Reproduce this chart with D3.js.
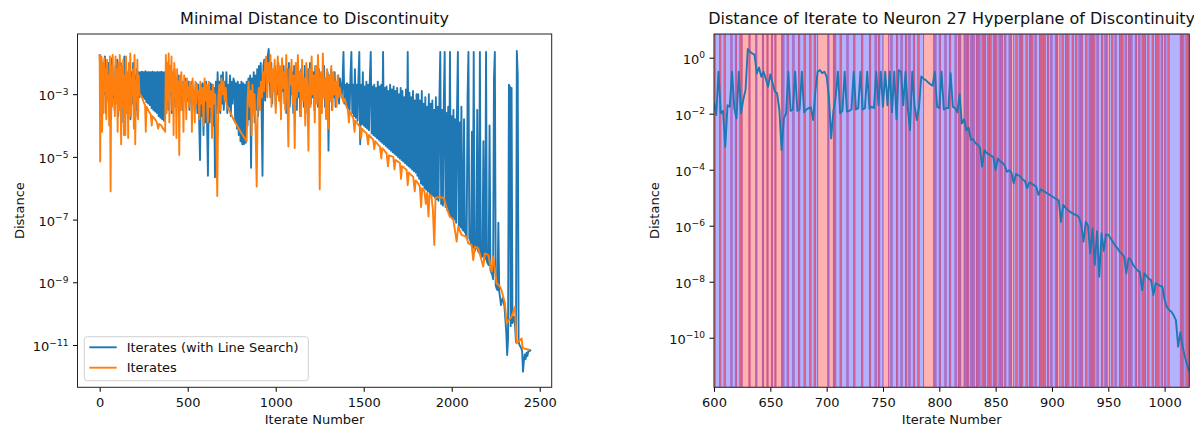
<!DOCTYPE html>
<html>
<head>
<meta charset="utf-8">
<script src="https://cdn.jsdelivr.net/npm/d3@7"></script>
<style>
  html, body { margin: 0; padding: 0; background: #fff; }
  svg { display: block; font-family: "DejaVu Sans", sans-serif; }
</style>
</head>
<body>
<svg id="fig" width="1194" height="427"></svg>
<script>
// ---------------- data ----------------
// Minimal distance to a discontinuity, stored as log10(distance).
// Line-search iterates are sampled every lsStep iterations starting at 0.
const lsStep = 5;
const lsLog10 = [
  -1.72,-2.6,-1.9,-3.3,-2.1,-3.0,-1.8,-3.6,-2.4,-2.9,-2.0,-3.4,-2.2,-3.8,-1.85,-3.1,-2.5,-3.5,-2.1,-2.8,
  -1.9,-3.7,-2.3,-3.2,-2.0,-3.9,-2.4,-3.0,-1.8,-3.4,-2.2,-3.6,-2.5,-3.1,-2.1,-3.8,-2.3,-3.3,-2.0,-2.9,
  -2.4,-3.5,-2.2,-3.7,-2.3,-3.1,
  -2.3,-3.05,-2.28,-3.1,-2.3,-3.15,-2.27,-3.25,-2.3,-3.3,-2.29,-3.35,-2.3,-3.45,-2.28,-3.5,-2.3,-3.55,-2.3,-3.6,
  -2.29,-3.7,-2.3,-3.75,-2.28,-3.8,-2.3,-3.85,-2.3,
  -2.4,-3.2,-2.6,-3.5,-2.3,-3.0,-2.7,-3.6,-2.5,-3.3,-2.2,-3.4,-2.6,-3.1,-2.4,-3.7,-2.5,-3.2,-2.8,-3.5,
  -2.6,-3.0,-2.5,-3.4,-2.7,-3.2,-2.6,-3.5,-2.8,-3.1,-2.6,-3.3,-2.9,-3.5,-2.7,
  -2.65,-3.6,-2.7,-3.8,-5.1,-2.7,-3.7,-2.65,-4.3,-2.7,-3.9,-2.6,-3.8,-5.6,-2.7,-3.9,-2.65,-3.7,-2.7,-4.0,
  -2.8,-5.65,-2.6,-3.6,
  -2.3,-3.4,-2.6,-3.6,-2.4,-3.3,-2.3,-3.5,-2.6,-3.2,-2.3,-3.6,-2.7,-3.4,-2.4,-3.7,-2.6,-3.3,-2.5,
  -2.6,-3.9,-2.65,-4.1,-2.6,-4.3,-2.7,-4.5,-2.6,-4.6,-2.65,-4.6,-2.7,-4.55,-2.6,-4.0,-2.5,-3.8,-2.4,-5.35,
  -2.5,-3.6,-2.3,-3.9,-2.4,-3.5,-2.2,-3.7,-2.1,-3.4,-2.0,-3.6,-5.6,-2.1,-1.9,-3.2,-2.0,-2.8,-1.8,
  -1.56,
  -2.2,-3.1,-2.0,-3.3,-2.4,-2.9,-2.1,-3.4,-2.3,-3.0,-2.0,-3.2,-2.5,-3.5,-2.2,-2.9,-2.1,-3.3,-2.4,-3.6,
  -2.2,-3.1,-2.0,-3.4,-2.6,-3.0,-2.3,-3.6,-2.1,-3.2,-2.4,-3.5,-2.0,-3.1,-2.3,-3.7,-2.2,-3.0,-2.5,-3.4,
  -2.1,-3.2,-2.4,-3.6,-2.2,-2.9,-2.0,-3.3,-2.5,-3.1,-2.3,-3.5,-2.1,-3.0,-2.4,-3.4,-2.2,-3.2,-2.6,-3.6,
  -2.3,-3.1,-2.1,-3.4,-2.5,-3.0,-2.3,-4.8,-2.4,-3.2,-2.2,-3.5,-2.5,-3.1,-2.3,-3.4,-2.6,-3.0,-2.4,-3.3,
  -2.5,
  -2.7,-3.1,-2.6,-1.65,-3.3,-2.7,-3.35,-2.65,-3.45,-2.7,-3.5,-2.4,-1.65,-3.6,-2.7,-3.7,-2.2,-3.75,-2.7,-3.85,
  -2.5,-1.65,-4.6,-2.7,-3.95,-2.3,-4.0,-2.75,-4.05,-2.6,-4.1,-2.7,-4.15,-2.5,-1.65,-4.25,-2.75,-4.3,-2.7,-4.35,
  -2.8,-4.4,-2.6,-4.45,-2.75,-4.5,-2.7,-4.55,-1.65,-4.6,-2.8,-4.65,-2.75,-4.7,-2.9,-4.75,-2.7,-4.8,-2.85,-4.85,
  -2.75,-4.9,-2.9,-4.95,-2.8,-5.0,-3.0,-5.05,-2.8,-5.1,-2.9,-5.15,-3.1,-5.2,-2.85,-5.25,-1.65,-5.3,-2.95,-5.35,
  -3.1,-5.4,-2.9,-5.45,-3.2,-5.5,-3.0,
  -5.6,-3.0,-5.7,-3.2,-5.85,-2.9,-5.9,-3.3,-6.0,-3.1,-6.05,-3.4,-6.1,-3.0,-6.15,-3.3,-6.2,-3.2,-6.25,-3.5,
  -6.3,-3.1,-6.35,-3.4,-6.4,-3.2,-1.65,-6.5,-3.5,-6.55,-3.3,-1.65,-6.6,-3.6,-6.7,-3.4,-6.8,-1.65,-6.9,-3.7,
  -6.95,-3.5,-7.0,-3.8,-7.1,-3.6,-1.65,-7.2,-3.9,-7.25,
  -3.4,-7.3,-7.35,-3.8,-7.4,-7.45,-7.6,-3.1,-1.65,-7.6,-7.65,-7.8,-4.2,-7.9,-1.65,-8.0,-7.95,-7.9,-3.5,-8.0,
  -8.05,-1.65,-8.1,-8.2,-8.15,-4.5,-8.3,-8.25,-1.65,-8.35,-8.4,-8.45,-4.0,-8.6,-8.7,-8.75,-8.9,-2.5,-1.65,-9.1,
  -9.2,-9.25,-7.1,-9.3,-9.5,-9.73,-9.6,-9.5,-9.6,-9.8,-10.2,-10.6,-11.32,-10.8,-2.7,-2.75,-10.4,-2.8,-10.3,-10.2,
  -10.1,-10.4,-10.9,-1.62,-2.4,-10.9,-11.0,-11.05,-11.1,-11.2,-11.85,-11.5,-11.3,-11.45,-11.25,-11.35,-11.2,-11.2,-11.18,-11.15
];

// Plain iterates: [iterate number, log10(distance)]
const itPts = [
  [0,-1.72],[3,-5.15],[6,-2.3],[10,-1.8],[14,-4.2],[18,-2.0],[22,-3.6],[26,-1.85],[30,-2.9],[34,-2.2],
  [38,-3.8],[42,-1.9],[46,-3.2],[50,-2.4],[54,-4.0],[58,-1.8],[62,-6.1],[66,-2.1],[70,-3.4],[74,-1.75],
  [78,-3.0],[82,-2.5],[86,-3.7],[90,-1.8],[94,-3.3],[98,-2.2],[102,-4.2],[106,-2.0],[110,-3.5],[114,-1.75],
  [118,-2.8],[122,-4.6],[126,-2.1],[130,-3.4],[134,-1.9],[138,-4.3],[142,-2.4],[146,-4.3],[150,-1.8],[154,-3.6],
  [158,-2.3],[162,-4.4],[166,-2.0],[170,-3.2],[174,-1.7],[178,-3.7],[182,-2.5],[186,-3.0],[190,-2.2],[194,-4.1],
  [198,-1.75],[202,-4.6],[206,-2.6],[210,-3.2],[214,-1.9],[218,-3.8],[222,-2.4],[226,-3.0],
  [230,-3.0],[240,-3.1],[250,-3.25],[258,-3.35],[262,-4.2],[266,-3.4],[280,-3.55],[290,-3.65],[296,-4.0],[300,-3.7],
  [315,-3.8],[325,-3.9],[332,-4.1],[338,-3.95],[350,-4.0],[360,-4.1],[368,-4.15],[372,-4.2],
  [376,-1.75],[380,-3.6],[384,-2.0],[388,-3.2],[392,-1.7],[396,-3.9],[400,-2.1],[404,-2.9],[408,-1.8],[412,-3.5],
  [416,-2.3],[420,-4.3],[424,-2.0],[428,-3.1],[432,-2.5],[436,-4.4],[440,-2.2],[444,-3.3],[448,-2.6],[452,-4.94],
  [456,-2.4],[460,-3.5],[464,-2.3],[468,-3.0],[472,-2.7],[476,-4.2],[480,-2.4],[484,-3.2],[488,-2.6],[492,-3.8],
  [496,-2.5],[500,-3.1],[504,-2.8],[508,-3.4],[512,-2.6],[516,-3.0],[520,-2.7],[524,-4.2],[528,-2.5],[532,-3.2],
  [536,-2.9],[540,-3.9],[544,-2.6],[548,-3.3],[552,-2.7],[556,-3.0],
  [560,-2.9],[566,-3.8],[572,-2.6],[578,-3.3],[584,-2.8],[590,-4.0],[596,-2.5],[602,-3.2],[608,-2.7],[614,-3.9],
  [620,-2.6],[626,-3.4],[632,-2.9],[638,-4.4],[644,-2.7],[650,-3.3],[656,-3.0],[662,-4.0],[668,-6.25],[674,-3.1],
  [680,-2.7],[686,-3.5],[692,-2.5],[698,-3.0],[704,-2.6],[710,-3.2],[716,-2.8],[721,-3.34],[760,-3.8],[800,-4.2],
  [835,-4.5],[840,-3.2],[846,-2.6],[852,-3.4],[858,-2.9],[863,-4.3],[868,-2.7],[874,-3.6],[880,-3.0],[886,-4.2],
  [892,-5.95],[898,-3.2],[904,-2.8],[910,-3.5],[916,-2.6],[922,-3.1],[928,-2.3],[934,-2.9],[940,-2.0],
  [946,-1.8],[952,-3.1],[958,-2.0],[964,-2.6],[970,-1.75],[976,-3.4],[982,-2.2],[988,-2.9],[994,-1.9],[1000,-3.6],
  [1006,-2.4],[1012,-1.8],[1018,-3.2],[1024,-2.1],[1030,-3.8],[1036,-1.85],[1042,-2.8],[1048,-2.3],[1054,-3.5],[1060,-1.75],
  [1066,-3.0],[1072,-4.67],[1078,-2.2],[1084,-2.7],[1090,-1.9],[1096,-3.3],[1102,-2.4],[1108,-4.72],[1114,-2.0],[1120,-3.1],
  [1126,-1.75],[1132,-2.9],[1138,-2.3],[1144,-3.7],[1150,-1.9],[1156,-3.2],[1162,-2.5],[1168,-4.0],[1174,-2.0],[1180,-2.8],
  [1186,-4.8],[1192,-2.2],[1198,-3.4],[1204,-1.8],[1210,-3.0],[1216,-2.4],[1222,-3.9],[1228,-2.1],[1234,-3.3],[1240,-1.75],
  [1246,-2.7],[1250,-6.03],[1256,-2.3],[1262,-3.6],[1268,-1.7],[1274,-3.1],[1280,-2.5],[1286,-3.8],[1292,-2.2],[1298,-4.1],
  [1304,-2.4],[1310,-3.2],[1316,-2.1],[1322,-3.5],[1328,-2.3],[1334,-3.0],[1340,-2.6],[1346,-3.4],[1352,-2.4],[1358,-3.1],
  [1364,-2.8],[1370,-3.0],
  [1375,-3.05],[1385,-3.25],[1392,-3.15],[1403,-3.4],[1410,-3.5],[1416,-3.9],[1420,-3.55],[1430,-3.65],[1441,-3.77],[1448,-4.2],
  [1452,-3.85],[1465,-3.95],[1479,-4.04],[1485,-4.4],[1490,-4.1],[1505,-4.2],[1517,-4.25],[1525,-4.6],[1530,-4.3],[1554,-4.46],
  [1560,-4.75],[1566,-4.5],[1580,-4.6],[1592,-4.67],[1600,-5.05],[1605,-4.72],[1618,-4.8],[1630,-4.89],[1638,-5.3],[1644,-4.95],
  [1668,-5.0],[1675,-5.4],[1680,-5.1],[1695,-5.15],[1706,-5.2],[1712,-5.7],[1718,-5.3],[1730,-5.35],[1744,-5.42],[1750,-5.9],
  [1756,-5.5],[1770,-5.58],[1781,-5.63],[1790,-6.1],[1795,-5.75],[1810,-5.85],[1819,-5.95],[1826,-6.6],[1832,-6.0],[1845,-6.1],
  [1853,-6.5],[1860,-6.15],[1868,-6.9],[1874,-6.2],[1885,-6.25],[1893,-6.7],[1901,-7.81],[1908,-6.3],[1930,-6.28],[1956,-6.32],
  [1970,-6.6],[1988,-6.9],[2000,-6.95],[2009,-7.01],[2018,-7.33],[2028,-7.7],[2037,-7.23],[2056,-7.49],[2085,-7.55],[2094,-7.76],
  [2113,-7.81],[2122,-8.29],[2132,-7.86],[2151,-7.92],[2179,-8.5],[2189,-8.08],[2208,-8.13],[2227,-8.66],[2236,-8.18],[2255,-9.03],
  [2274,-9.14],[2283,-9.25],[2302,-9.67],[2312,-10.31],[2340,-10.1],[2359,-9.78],[2368,-10.95],[2397,-10.79],[2403,-11.1],[2444,-11.16]
];

// Distance of iterate to the neuron-27 hyperplane, log10, every neuronStep iterates from neuronStart.
const neuronStart = 600;
const neuronStep = 2;
const neuronLog10 = [
  -1.6,-2.05,-0.5,-1.99,-1.9,-3.18,-1.7,-1.75,-0.5,-1.8,
  -2.17,-0.5,-1.99,-1.5,-1.15,0.31,0.21,0.15,0.1,-0.56,
  -0.35,-0.68,-0.5,-0.75,-1.04,-0.6,-0.9,-1.21,-1.27,-1.87,
  -3.3,-2.17,-1.99,-0.5,-1.9,-1.85,-0.5,-1.9,-1.85,-0.5,
  -1.95,-1.85,-1.8,-1.78,-2.23,-1.2,-0.5,-0.44,-0.55,-0.5,
  -0.68,-1.4,-2.88,-1.9,-1.4,-0.5,-1.99,-1.9,-0.5,-1.92,
  -1.9,-1.85,-0.5,-1.85,-1.8,-0.5,-1.85,-1.8,-0.5,-1.82,
  -1.75,-1.8,-0.5,-1.7,-0.5,-1.75,-0.5,-1.7,-0.5,-1.95,
  -0.5,-2.2,-0.45,-0.5,-1.7,-0.5,-1.8,-2.58,-0.5,-1.7,
  -2.23,-1.75,-0.67,-0.75,-0.8,-0.88,-0.95,-1.0,-0.5,-1.75,
  -1.8,-0.5,-1.85,-1.8,-1.8,-0.55,-1.75,-1.8,-1.95,-1.3,
  -2.35,-2.2,-2.6,-2.5,-2.94,-2.9,-3.05,-3.1,-3.2,-3.89,
  -3.3,-3.4,-3.45,-3.5,-3.55,-4.0,-3.6,-3.7,-3.75,-3.85,
  -4.07,-4.02,-4.1,-4.49,-4.15,-4.2,-4.25,-4.35,-4.4,-4.66,
  -4.45,-4.5,-4.55,-4.6,-4.9,-4.7,-4.75,-4.8,-4.85,-4.9,
  -4.95,-5.0,-5.05,-5.1,-5.86,-5.26,-5.35,-5.44,-5.5,-5.55,
  -5.6,-5.62,-5.7,-5.97,-6.57,-5.86,-6.0,-6.99,-6.1,-7.4,
  -6.2,-7.82,-6.27,-6.9,-6.3,-6.33,-6.45,-6.57,-6.7,-6.8,
  -6.93,-7.0,-7.1,-7.7,-7.15,-7.22,-7.4,-7.5,-7.6,-7.65,
  -8.3,-7.7,-7.8,-7.9,-7.94,-8.48,-8.05,-8.1,-8.15,-8.18,
  -8.65,-8.9,-9.01,-9.07,-9.2,-9.37,-10.32,-9.8,-10.32,-10.68,
  -10.98,-11.21
];

// Side of the hyperplane for each iterate from neuronStart: r = one side, b = the other.
const sideSeq = (
  "rbbbbrbbbrbbbbbrbbbrbbbrbrrrrrrbrrrrrbrrrrrbrrrbrr" +
  "rbrrbrrrrrbrbbbrbbbbrbbbbrbbbbrbbbbrbbbrbbrrrrrrrr" +
  "rbrrrrbrbbbbrbbbbbrbbbbbrbbbbbbrbbbbbbrbbbbrbbrbbb" +
  "rrrrrbbrbbbbrbbbrbbbrbbrbbbrbbbrbbbbrrrrrrrrrbrbbb" +
  "rbbbbrbbbrbbbbrbbrbrrrbrbrbbrbrbbrbrbbrbrbbrbrbbrb" +
  "rbbrbrbbrbbbrbrrbbrbbrbrbbbrbbrbrbbrbbbrbrbrbbrbbr" +
  "bbbrbrrbbrbbrbrbbbrbbrbbrbrbbbrbbrbrbrbbrbbbrbbrbr" +
  "rbbrbbrbbbrbrbbrbbrbrbbbrbbrbbrbrbbrbbbrbbrbrbbrbb" +
  "rbbr" + "bbbbbbbbbb" + "rbrbbrbr"
).split("");

const xTicksL = [0, 500, 1000, 1500, 2000, 2500];
const yExpTicksL = [-3, -5, -7, -9, -11];
const xTicksR = [600, 650, 700, 750, 800, 850, 900, 950, 1000];
const yExpTicksR = [0, -2, -4, -6, -8, -10];

const seriesNames = ["Iterates (with Line Search)", "Iterates"];
const seriesColors = ["#1f77b4", "#ff7f0e"];

// ---------------- layout ----------------
const FONT = 13;
const TITLE_FONT = 16;
const boxL = { x0: 77.5, x1: 551.7, y0: 34, y1: 387.3 };
const boxR = { x0: 714, x1: 1189.3, y0: 34, y1: 387.3 };

const svg = d3.select("#fig");
const defs = svg.append("defs");

const xL = d3.scaleLinear().domain([-126, 2568]).range([boxL.x0, boxL.x1]);
const yL = d3.scaleLog().domain([10 ** -12.35, 10 ** -1.08]).range([boxL.y1, boxL.y0]);
const xR = d3.scaleLinear().domain([600, 1021.9]).range([boxR.x0, boxR.x1]);
const yR = d3.scaleLog().domain([10 ** -11.77, 10 ** 0.846]).range([boxR.y1, boxR.y0]);

function clipFor(id, b) {
  defs.append("clipPath").attr("id", id).append("rect")
    .attr("x", b.x0).attr("y", b.y0).attr("width", b.x1 - b.x0).attr("height", b.y1 - b.y0);
  return `url(#${id})`;
}
const clipL = clipFor("clipL", boxL);
const clipR = clipFor("clipR", boxR);

function expLabel(textSel, e) {
  textSel.text(null);
  textSel.append("tspan").text("10");
  textSel.append("tspan").attr("dy", -5.4).attr("font-size", 9.1)
    .text(e < 0 ? "\u2212" + (-e) : String(e));
}

function drawAxes(box, x, y, xTicks, yExps, title, yLabelX) {
  const gx = svg.append("g").attr("transform", `translate(0,${box.y1})`)
    .call(d3.axisBottom(x).tickValues(xTicks).tickSize(4.5).tickSizeOuter(0).tickFormat(d3.format("d")));
  gx.select(".domain").remove();
  gx.selectAll(".tick line").attr("stroke", "#000").attr("stroke-width", 1);
  gx.selectAll(".tick text").attr("y", 20).attr("dy", 0)
    .attr("font-size", FONT).attr("font-family", "DejaVu Sans").attr("fill", "#111");

  const gy = svg.append("g").attr("transform", `translate(${box.x0},0)`)
    .call(d3.axisLeft(y).tickValues(yExps.map(e => 10 ** e)).tickSize(4.5).tickPadding(4.5).tickSizeOuter(0));
  gy.select(".domain").remove();
  gy.selectAll(".tick line").attr("stroke", "#000").attr("stroke-width", 1);
  gy.selectAll(".tick text").attr("dy", null).attr("y", 5.6)
    .attr("font-size", FONT).attr("font-family", "DejaVu Sans").attr("fill", "#111")
    .each(function (d, i) { expLabel(d3.select(this), yExps[i]); });

  svg.append("rect").attr("x", box.x0).attr("y", box.y0)
    .attr("width", box.x1 - box.x0).attr("height", box.y1 - box.y0)
    .attr("fill", "none").attr("stroke", "#222").attr("stroke-width", 1);

  const cx = (box.x0 + box.x1) / 2;
  svg.append("text").attr("x", cx).attr("y", 23.5).attr("text-anchor", "middle")
    .attr("font-size", TITLE_FONT).attr("fill", "#111").text(title);
  svg.append("text").attr("x", cx).attr("y", 424).attr("text-anchor", "middle")
    .attr("font-size", FONT).attr("fill", "#111").text("Iterate Number");
  svg.append("text").attr("transform", `translate(${yLabelX},${(box.y0 + box.y1) / 2}) rotate(-90)`)
    .attr("text-anchor", "middle").attr("font-size", FONT).attr("fill", "#111").text("Distance");
}

// ---------------- left panel ----------------
const lsPts = lsLog10.map((v, i) => [i * lsStep, v]);
const lineL = d3.line().x(d => xL(d[0])).y(d => yL(10 ** d[1]));

const plotL = svg.append("g").attr("clip-path", clipL);
plotL.append("path").datum(lsPts).attr("d", lineL)
  .attr("fill", "none").attr("stroke", seriesColors[0]).attr("stroke-width", 1.9).attr("stroke-linejoin", "round");
plotL.append("path").datum(itPts).attr("d", lineL)
  .attr("fill", "none").attr("stroke", seriesColors[1]).attr("stroke-width", 1.9).attr("stroke-linejoin", "round");

drawAxes(boxL, xL, yL, xTicksL, yExpTicksL, "Minimal Distance to Discontinuity", 23.7);

// legend
const lg = svg.append("g");
lg.append("rect").attr("x", 84.3).attr("y", 336.7).attr("width", 224).attr("height", 44)
  .attr("rx", 3).attr("fill", "#fff").attr("fill-opacity", 0.8).attr("stroke", "#d0d0d0").attr("stroke-width", 1);
seriesNames.forEach((name, i) => {
  const yy = 347.3 + i * 20.4;
  lg.append("line").attr("x1", 89.3).attr("x2", 116.7).attr("y1", yy).attr("y2", yy)
    .attr("stroke", seriesColors[i]).attr("stroke-width", 1.9);
  lg.append("text").attr("x", 126.7).attr("y", yy + 4.6).attr("font-size", FONT).attr("fill", "#111").text(name);
});

// ---------------- right panel ----------------
// group consecutive iterates on the same side into spans
const runs = [];
sideSeq.forEach((s, i) => {
  const it = neuronStart + i;
  const last = runs[runs.length - 1];
  if (last && last.side === s) last.end = it + 1;
  else runs.push({ start: it, end: it + 1, side: s });
});
// blue spans first, red spans on top
const orderedRuns = runs.filter(d => d.side === "b").concat(runs.filter(d => d.side === "r"));

const plotR = svg.append("g").attr("clip-path", clipR);
plotR.selectAll("rect.span").data(orderedRuns).join("rect").attr("class", "span")
  .attr("x", d => xR(d.start)).attr("width", d => xR(d.end) - xR(d.start))
  .attr("y", boxR.y0).attr("height", boxR.y1 - boxR.y0)
  .attr("fill", d => d.side === "r" ? "#ff0000" : "#0000ff").attr("fill-opacity", 0.3)
  .attr("stroke", d => d.side === "r" ? "#ff0000" : "#0000ff").attr("stroke-opacity", 0.3)
  .attr("stroke-width", 1.0);

const neuronPts = neuronLog10.map((v, i) => [neuronStart + i * neuronStep, v]);
const lineR = d3.line().x(d => xR(d[0])).y(d => yR(10 ** d[1]));
plotR.append("path").datum(neuronPts).attr("d", lineR)
  .attr("fill", "none").attr("stroke", seriesColors[0]).attr("stroke-width", 1.9).attr("stroke-linejoin", "round");

drawAxes(boxR, xR, yR, xTicksR, yExpTicksR,
  "Distance of Iterate to Neuron 27 Hyperplane of Discontinuity", 659);
</script>
</body>
</html>
